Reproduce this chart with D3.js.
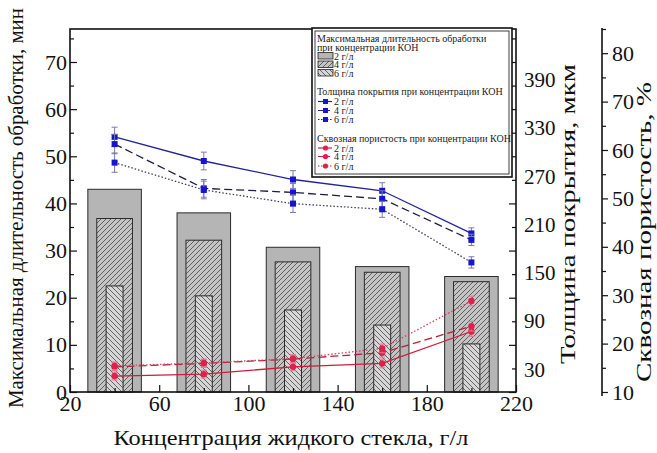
<!DOCTYPE html>
<html>
<head>
<meta charset="utf-8">
<script src="https://cdn.jsdelivr.net/npm/d3@7"></script>
<style>
  body { margin: 0; background: #fff; }
  svg { display: block; }
  svg text { font-family: "Liberation Serif", "Times New Roman", Tinos, "DejaVu Serif", serif; }
</style>
</head>
<body>
<div id="chart"></div>
<script>
// --- data ---
const concentrations = [40, 80, 120, 160, 200];
const kohLabels = ['2 г/л', '4 г/л', '6 г/л'];

// max treatment time, min (bars)
const duration2 = [43, 38, 30.7, 26.6, 24.5];
const duration4 = [36.8, 32.2, 27.6, 25.4, 23.4];
const duration6 = [22.5, 20.4, 17.4, 14.2, 10.2];

// coating thickness, um
const thickness2 = [319, 289, 266, 252, 199];
const thickness4 = [310, 255, 250, 242, 191];
const thickness6 = [287, 253, 236, 229, 163];
const thicknessErr = [12, 11, 11, 10, 7];

// through porosity, %
const porosity2 = [13.3, 13.7, 15.2, 15.9, 22.5];
const porosity4 = [15.2, 15.9, 16.8, 18.1, 23.6];
const porosity6 = [15.4, 16.0, 16.9, 19.0, 28.8];
const porosityErr = [0.8, 0.8, 0.8, 0.9, 1.0];

// axis ticks
const xTicks = [20, 60, 100, 140, 180, 220];
const xMinor = [40, 80, 120, 160, 200];
const minTicks = [0, 10, 20, 30, 40, 50, 60, 70];
const minMinor = [5, 15, 25, 35, 45, 55, 65, 75];
const thkTicks = [30, 90, 150, 210, 270, 330, 390];
const porTicks = [10, 20, 30, 40, 50, 60, 70, 80];
const porMinor = [15, 25, 35, 45, 55, 65, 75, 85];

const chart = (() => {
    const W = 657, H = 453;
    const L = 70, R = 516, T = 29, B = 392;
    let svg;

    const x = d3.scaleLinear().domain([20, 220]).range([L, R]);
    const yMin = d3.scaleLinear().domain([0, 77]).range([B, T]);
    const yThk = d3.scaleLinear().domain([2, 453]).range([B, T]);
    const yPor = d3.scaleLinear().domain([10, 85]).range([B, T]);

    const appendSVG = () => {
        svg = d3.select('#chart').append('svg')
            .attr('width', W).attr('height', H);

        const defs = svg.append('defs');
        const hatch = (id, bg, d) => {
            const p = defs.append('pattern').attr('id', id)
                .attr('patternUnits', 'userSpaceOnUse')
                .attr('width', 5).attr('height', 5);
            p.append('rect').attr('width', 5).attr('height', 5).attr('fill', bg);
            p.append('path').attr('d', d).attr('stroke', '#333').attr('stroke-width', 0.7);
        };
        hatch('fwd', '#c4c4c4', 'M0,5L5,0M-1,1L1,-1M4,6L6,4');
        hatch('back', '#d6d6d6', 'M0,0L5,5M-1,4L1,6M4,-1L6,1');
    };

    /**
     * bars for the three KOH concentrations, widest at the back
     */
    const drawBars = () => {
        const sets = [
            {vals: duration2, hw: 12, fill: '#b5b5b5'},
            {vals: duration4, hw: 8, fill: 'url(#fwd)'},
            {vals: duration6, hw: 3.8, fill: 'url(#back)'}
        ];
        sets.forEach(s => {
            svg.append('g').selectAll('rect')
                .data(concentrations.map((c, i) => [c, s.vals[i]]))
                .enter()
                .append('rect')
                .attr('x', d => x(d[0] - s.hw))
                .attr('width', d => x(d[0] + s.hw) - x(d[0] - s.hw))
                .attr('y', d => yMin(d[1]))
                .attr('height', d => yMin(0) - yMin(d[1]))
                .attr('fill', s.fill)
                .attr('stroke', '#2a2a2a')
                .attr('stroke-width', 1);
        });
    };

    const series = (vals, errs, y, line, err) => {
        const g = svg.append('g');
        const pts = concentrations.map((c, i) => ({c, v: vals[i], e: errs[i]}));
        g.append('path')
            .datum(pts)
            .attr('fill', 'none')
            .attr('stroke', line.color)
            .attr('stroke-width', 1.3)
            .attr('stroke-dasharray', line.dash)
            .attr('d', d3.line().x(d => x(d.c)).y(d => y(d.v)));
        const eb = g.selectAll('g.eb').data(pts).enter().append('g')
            .attr('stroke', err).attr('stroke-width', 1);
        eb.append('line')
            .attr('x1', d => x(d.c)).attr('x2', d => x(d.c))
            .attr('y1', d => y(d.v - d.e)).attr('y2', d => y(d.v + d.e));
        eb.append('line')
            .attr('x1', d => x(d.c) - 3).attr('x2', d => x(d.c) + 3)
            .attr('y1', d => y(d.v + d.e)).attr('y2', d => y(d.v + d.e));
        eb.append('line')
            .attr('x1', d => x(d.c) - 3).attr('x2', d => x(d.c) + 3)
            .attr('y1', d => y(d.v - d.e)).attr('y2', d => y(d.v - d.e));
        return {g, pts};
    };

    const drawLines = () => {
        const blue = [
            {vals: thickness2, color: '#23239a', dash: null},
            {vals: thickness4, color: '#1e1e40', dash: '8,4'},
            {vals: thickness6, color: '#40405a', dash: '1.5,2'}
        ];
        blue.forEach(b => {
            const s = series(b.vals, thicknessErr, yThk, b, '#7a7aa8');
            s.g.selectAll('rect.m').data(s.pts).enter().append('rect')
                .attr('x', d => x(d.c) - 3).attr('y', d => yThk(d.v) - 3)
                .attr('width', 6).attr('height', 6)
                .attr('fill', '#1414d2');
        });
        const red = [
            {vals: porosity2, color: '#d01c3c', dash: null},
            {vals: porosity4, color: '#b82038', dash: '8,4'},
            {vals: porosity6, color: '#c84860', dash: '1.5,2'}
        ];
        red.forEach(r => {
            const s = series(r.vals, porosityErr, yPor, r, '#e07890');
            s.g.selectAll('circle').data(s.pts).enter().append('circle')
                .attr('cx', d => x(d.c)).attr('cy', d => yPor(d.v))
                .attr('r', 3.2).attr('fill', '#e0204a');
        });
    };

    const styleAxis = (g, size) => {
        g.select('.domain').remove();
        g.attr('font-family', null);
        g.selectAll('text').attr('font-size', size).attr('fill', '#111');
        g.selectAll('line').attr('stroke', '#111').attr('stroke-width', 1.2);
    };

    const drawAxes = () => {
        const fs = 22;
        svg.append('g').attr('transform', `translate(${L},0)`)
            .call(d3.axisLeft(yMin).tickValues(minTicks).tickSize(-7).tickPadding(3))
            .call(g => styleAxis(g, fs));
        svg.append('g').attr('transform', `translate(${L},0)`)
            .call(d3.axisLeft(yMin).tickValues(minMinor.filter(v => v < 77)).tickSize(-4).tickFormat(''))
            .call(g => styleAxis(g, fs));
        svg.append('g').attr('transform', `translate(0,${B})`)
            .call(d3.axisBottom(x).tickValues(xTicks).tickSize(-7).tickPadding(3))
            .call(g => styleAxis(g, fs));
        svg.append('g').attr('transform', `translate(0,${B})`)
            .call(d3.axisBottom(x).tickValues(xMinor).tickSize(-4).tickFormat(''))
            .call(g => styleAxis(g, fs));
        // mirrored ticks on the right edge
        svg.append('g').attr('transform', `translate(${R},0)`)
            .call(d3.axisRight(yMin).tickValues(minTicks).tickSize(-7).tickFormat(''))
            .call(g => styleAxis(g, fs));
        svg.append('g').attr('transform', `translate(${R},0)`)
            .call(d3.axisRight(yMin).tickValues(minMinor.filter(v => v < 77)).tickSize(-4).tickFormat(''))
            .call(g => styleAxis(g, fs));
        // thickness labels, no ticks of their own
        svg.append('g').attr('transform', `translate(${R},0)`)
            .call(d3.axisRight(yThk).tickValues(thkTicks).tickSize(0).tickPadding(8))
            .call(g => styleAxis(g, 21));
        // porosity axis, detached
        const px = 602;
        svg.append('g').attr('transform', `translate(${px},0)`)
            .call(d3.axisRight(yPor).tickValues(porTicks).tickSize(6).tickPadding(4))
            .call(g => styleAxis(g, fs));
        svg.append('g').attr('transform', `translate(${px},0)`)
            .call(d3.axisRight(yPor).tickValues(porMinor).tickSize(4).tickFormat(''))
            .call(g => styleAxis(g, fs));
        svg.append('line').attr('x1', px).attr('x2', px).attr('y1', T - 1).attr('y2', B + 4)
            .attr('stroke', '#111').attr('stroke-width', 1.6);

        // frame
        svg.append('rect').attr('x', L).attr('y', T).attr('width', R - L).attr('height', B - T)
            .attr('fill', 'none').attr('stroke', '#111').attr('stroke-width', 1.6);

        const title = (txt, tx, ty, rot, len, fsz) => svg.append('text')
            .attr('transform', `translate(${tx},${ty}) rotate(${rot})`)
            .attr('text-anchor', 'middle').attr('font-size', fsz).attr('fill', '#111')
            .attr('textLength', len).attr('lengthAdjust', 'spacingAndGlyphs')
            .text(txt);
        title('Максимальная длительность обработки, мин', 23, 208, -90, 400, 21);
        title('Толщина покрытия, мкм', 575, 214, -90, 300, 22);
        title('Сквозная пористость, %', 651, 232, -90, 300, 22);
        title('Концентрация жидкого стекла, г/л', 291, 445, 0, 355, 21);
    };

    const drawLegend = () => {
        const lx = 312, ly = 28, lw = 200, lh = 149;
        const g = svg.append('g');
        g.append('rect').attr('x', lx).attr('y', ly).attr('width', lw).attr('height', lh)
            .attr('fill', '#fff').attr('stroke', '#111').attr('stroke-width', 1.6);
        g.append('rect').attr('x', lx + 3).attr('y', ly + 3).attr('width', lw - 6).attr('height', lh - 6)
            .attr('fill', 'none').attr('stroke', '#111').attr('stroke-width', 0.8);

        const tx = 317, fs = 10;
        const text = (t, y, xx) => g.append('text').attr('x', xx || tx).attr('y', y)
            .attr('font-size', fs).attr('fill', '#222').text(t);

        text('Максимальная длительность обработки', 41.5);
        text('при концентрации КОН', 51);
        const barFills = ['#b5b5b5', 'url(#fwd)', 'url(#back)'];
        [59.5, 68, 76.5].forEach((y, i) => {
            g.append('rect').attr('x', tx + 1).attr('y', y - 7).attr('width', 15).attr('height', 6.5)
                .attr('fill', barFills[i]).attr('stroke', '#222').attr('stroke-width', 0.8);
            text(kohLabels[i], y, tx + 17);
        });

        const lineKey = (y0, title, col, mark, ys) => {
            text(title, y0);
            const dashes = [null, '5,2', '1.5,1.5'];
            ys.forEach((y, i) => {
                g.append('line').attr('x1', tx + 1).attr('x2', tx + 15).attr('y1', y - 3.5).attr('y2', y - 3.5)
                    .attr('stroke', col).attr('stroke-width', 1.2).attr('stroke-dasharray', dashes[i]);
                if (mark === 'sq') {
                    g.append('rect').attr('x', tx + 6).attr('y', y - 6).attr('width', 5).attr('height', 5).attr('fill', '#1414d2');
                } else {
                    g.append('circle').attr('cx', tx + 8.5).attr('cy', y - 3.5).attr('r', 2.6).attr('fill', '#e0204a');
                }
                text(kohLabels[i], y, tx + 17);
            });
        };
        lineKey(95, 'Толщина покрытия при концентрации КОН', '#23239a', 'sq', [105, 114, 123]);
        lineKey(141.5, 'Сквозная пористость при концентрации КОН', '#c8203c', 'ci', [151.5, 160, 169.5]);
    };

    const draw = () => {
        appendSVG();
        drawBars();
        drawLines();
        drawAxes();
        drawLegend();
    };

    return {draw};
})();

chart.draw();
</script>
</body>
</html>
